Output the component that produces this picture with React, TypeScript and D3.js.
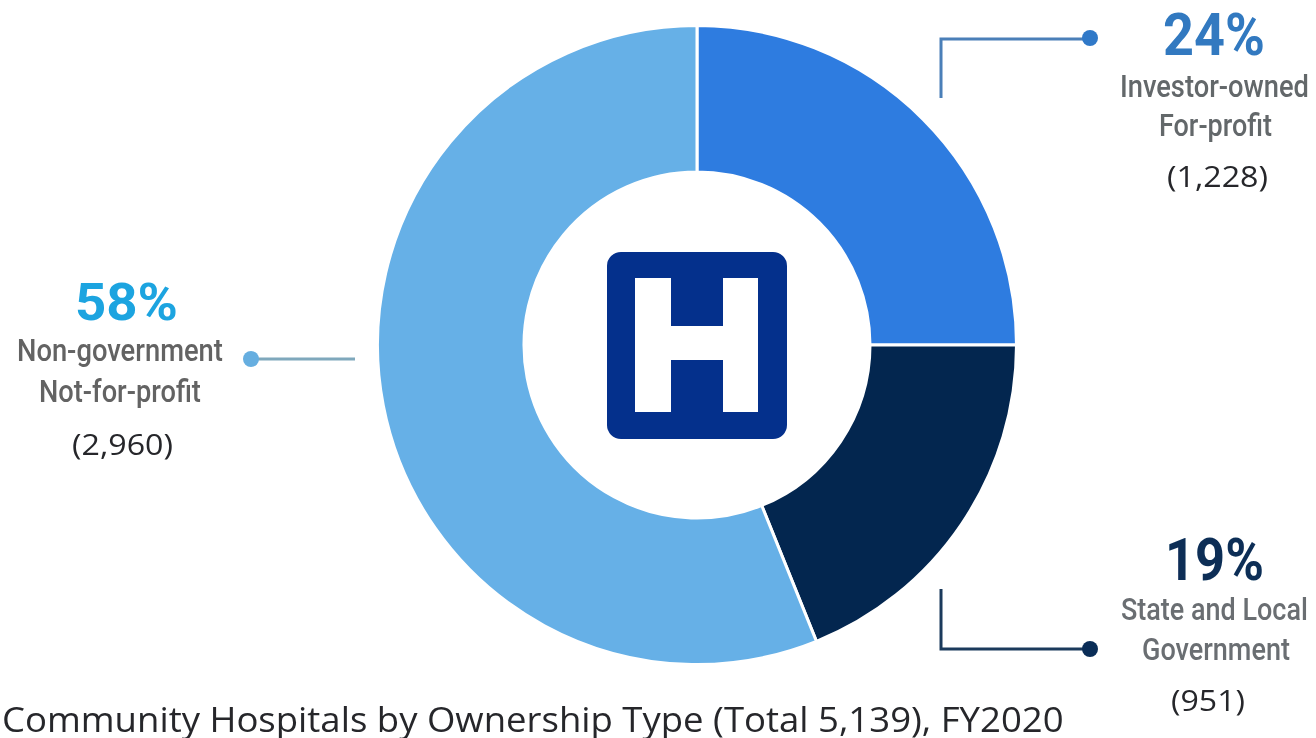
import React from "react";
import * as d3 from "d3";

// Slice shares as drawn in the picture (degrees of the ring / 3.6)
const sliceNames = ["Investor-owned", "State and Local", "Non-government"];
const sliceShares = [25, 18.9, 56.1];
const sliceColors = ["#2e7ce0", "#03264f", "#66b0e7"];

const title = "Community Hospitals by Ownership Type (Total 5,139), FY2020";

type T = { s: string; x0: number; x1: number; y: number; size: number; fill: string; family: string; weight: number };
const cond = "Roboto, sans-serif";
const open = "'Open Sans', sans-serif";
const texts: T[] = [
  { s: "24%", x0: 1163, x1: 1265, y: 55, size: 60, fill: "#3079c0", family: cond, weight: 700 },
  { s: "Investor-owned", x0: 1120, x1: 1309, y: 97, size: 31, fill: "#63676b", family: cond, weight: 500 },
  { s: "For-profit", x0: 1159, x1: 1272, y: 136, size: 31, fill: "#63676b", family: cond, weight: 500 },
  { s: "(1,228)", x0: 1167, x1: 1268, y: 187, size: 30, fill: "#26282c", family: open, weight: 400 },
  { s: "58%", x0: 75, x1: 178, y: 320, size: 52, fill: "#1ea4e0", family: cond, weight: 700 },
  { s: "Non-government", x0: 17, x1: 223, y: 361, size: 31, fill: "#636363", family: cond, weight: 500 },
  { s: "Not-for-profit", x0: 39, x1: 201, y: 402, size: 31, fill: "#636363", family: cond, weight: 500 },
  { s: "(2,960)", x0: 72, x1: 173, y: 455, size: 30, fill: "#26282c", family: open, weight: 400 },
  { s: "19%", x0: 1165, x1: 1264, y: 580, size: 60, fill: "#0a2d57", family: cond, weight: 700 },
  { s: "State and Local", x0: 1121, x1: 1308, y: 620, size: 31, fill: "#6a6e72", family: cond, weight: 500 },
  { s: "Government", x0: 1142, x1: 1290, y: 660, size: 31, fill: "#6a6e72", family: cond, weight: 500 },
  { s: "(951)", x0: 1171, x1: 1245, y: 711, size: 30, fill: "#26282c", family: open, weight: 400 },
  { s: title, x0: 2, x1: 1064, y: 732, size: 35, fill: "#26282c", family: open, weight: 400 },
];

const cx = 697;
const cy = 345;

// Squeeze or stretch a text horizontally so it spans x0..x1
function fit(el: SVGTextElement | null, t: T) {
  if (!el) return;
  const w = el.getComputedTextLength();
  const sx = w > 0 ? (t.x1 - t.x0) / w : 1;
  el.setAttribute("transform", `translate(${t.x0},${t.y}) scale(${sx},1)`);
}

export default function App() {
  const pie = d3.pie<number>().sort(null).startAngle(0).endAngle(2 * Math.PI);
  const arc = d3.arc<d3.PieArcDatum<number>>().innerRadius(173).outerRadius(319.5);
  const slices = pie(sliceShares);
  const connector = d3.line();

  return (
    <svg
      width={1316}
      height={738}
      viewBox="0 0 1316 738"
      style={{ position: "fixed", left: 0, top: 0, background: "#fff" }}
    >
      <defs>
        <filter id="soft" x="-5%" y="-5%" width="110%" height="110%">
          <feGaussianBlur stdDeviation="0.5" />
        </filter>
      </defs>
      <g transform={`translate(${cx},${cy})`}>
        {slices.map((d, i) => (
          <path key={sliceNames[i]} d={arc(d) ?? ""} fill={sliceColors[i]} stroke="#fff" strokeWidth={3} />
        ))}
      </g>

      <rect x={607} y={252} width={180} height={187} rx={14} fill="#04308c" />
      <path d="M635 278H671V326H723V278H758V412H723V360H671V412H635Z" fill="#fff" />

      <path d={connector([[941, 98], [941, 39], [1089, 39]]) ?? ""} fill="none" stroke="#4a7fb8" strokeWidth={3} />
      <circle cx={1090} cy={38} r={8} fill="#3079c8" />
      <path d={connector([[252, 359], [355, 359]]) ?? ""} fill="none" stroke="#7fa8bc" strokeWidth={3} />
      <circle cx={251} cy={359} r={8} fill="#66aee0" />
      <path d={connector([[941, 589], [941, 649], [1089, 649]]) ?? ""} fill="none" stroke="#1b3a5c" strokeWidth={3} />
      <circle cx={1090} cy={649} r={8} fill="#0a2d57" />

      <g filter="url(#soft)">
        {texts.map((t) => (
          <text
            key={t.s}
            ref={(el) => fit(el, t)}
            fontSize={t.size}
            fontFamily={t.family}
            fontWeight={t.weight}
            fill={t.fill}
          >
            {t.s}
          </text>
        ))}
      </g>
    </svg>
  );
}
